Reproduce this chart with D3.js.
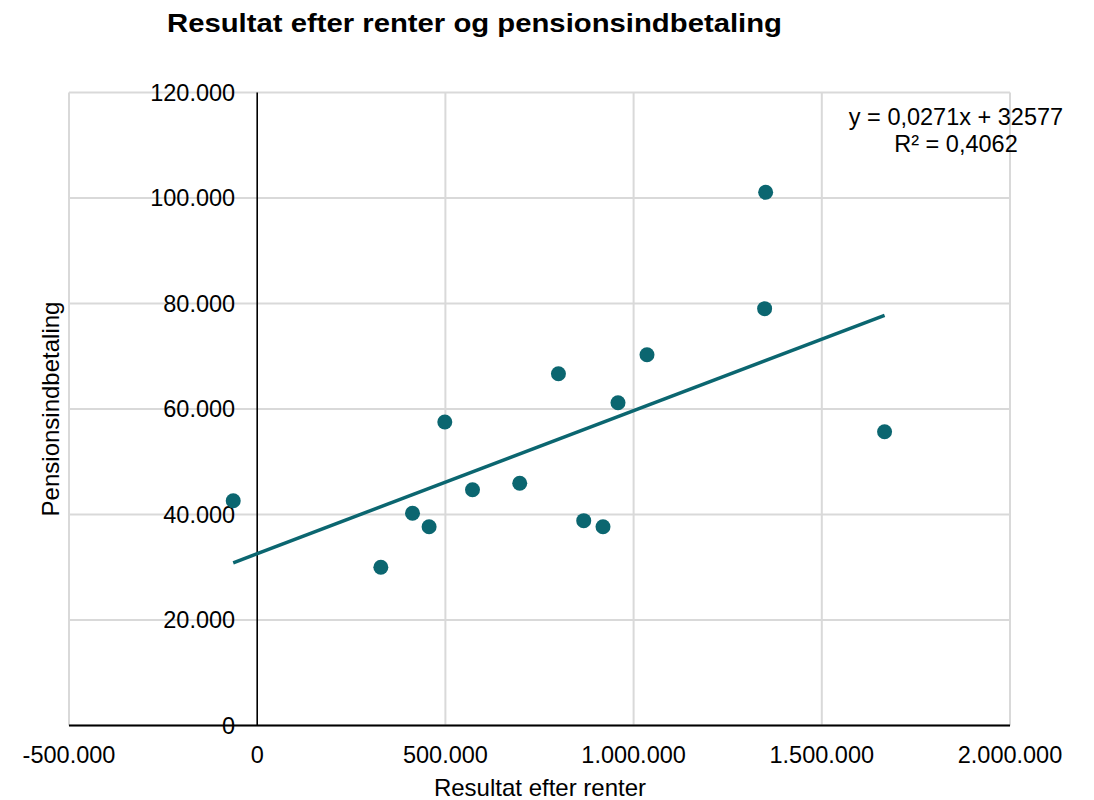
<!DOCTYPE html>
<html><head><meta charset="utf-8">
<script src="https://cdn.jsdelivr.net/npm/d3@7"></script>
<style>body{margin:0;background:#fff;} svg{display:block;font-family:"Liberation Sans",Arial,sans-serif;}</style>
</head><body>
<svg id="c" width="1094" height="800"></svg>
<script>
const xValues = [-63700, 328500, 412600, 456700, 498400, 572000, 697500, 800300, 867500, 918700, 958600, 1035600, 1348100, 1350800, 1666800];
const yValues = [42620, 29990, 40230, 37690, 57540, 44700, 45920, 66690, 38830, 37690, 61190, 70290, 79020, 101080, 55700];
const xTicks = [-500000, 0, 500000, 1000000, 1500000, 2000000];
const yTicks = [0, 20000, 40000, 60000, 80000, 100000, 120000];
const trendSlope = 0.0271, trendIntercept = 32577;
const equationLines = ["y = 0,0271x + 32577", "R² = 0,4062"];
const title = "Resultat efter renter og pensionsindbetaling";
const xTitle = "Resultat efter renter", yTitle = "Pensionsindbetaling";
const color = "#0b6670";

const svg = d3.select("#c");
const L = 69, R = 1010, T = 92.5, B = 725.5;
const x = d3.scaleLinear().domain([-500000, 2000000]).range([L, R]);
const y = d3.scaleLinear().domain([0, 120000]).range([B, T]);
const fmt = v => d3.format(",")(v).replace(/,/g, ".").replace("−", "-");

// grid
svg.append("g").selectAll("line").data(yTicks).join("line")
  .attr("x1", L).attr("x2", R).attr("y1", d => y(d)).attr("y2", d => y(d))
  .attr("stroke", "#d9d9d9").attr("stroke-width", 2);
svg.append("g").selectAll("line").data(xTicks.filter(d => d !== 0)).join("line")
  .attr("x1", d => x(d)).attr("x2", d => x(d)).attr("y1", T).attr("y2", B)
  .attr("stroke", "#d9d9d9").attr("stroke-width", 2);

// axes lines
svg.append("line").attr("x1", x(0)).attr("x2", x(0)).attr("y1", T).attr("y2", B)
  .attr("stroke", "#000").attr("stroke-width", 1.6);
svg.append("line").attr("x1", L).attr("x2", R).attr("y1", y(0)).attr("y2", y(0))
  .attr("stroke", "#000").attr("stroke-width", 2);

// tick labels
svg.append("g").selectAll("text").data(yTicks).join("text")
  .attr("x", x(0) - 22).attr("y", d => y(d)).attr("dy", "0.36em")
  .attr("text-anchor", "end").attr("font-size", 23.5).attr("fill", "#000")
  .text(d => fmt(d));
svg.append("g").selectAll("text").data(xTicks).join("text")
  .attr("x", d => x(d)).attr("y", 763)
  .attr("text-anchor", "middle").attr("font-size", 23.5).attr("fill", "#000")
  .text(d => fmt(d));

// titles
svg.append("text").attr("x", 167).attr("y", 32)
  .attr("font-size", 26.5).attr("font-weight", "bold")
  .attr("textLength", 615).attr("lengthAdjust", "spacingAndGlyphs").text(title);
svg.append("text").attr("x", 540).attr("y", 796).attr("text-anchor", "middle")
  .attr("font-size", 24).text(xTitle);
svg.append("text").attr("transform", `translate(59,409) rotate(-90)`).attr("text-anchor", "middle")
  .attr("font-size", 24).text(yTitle);

// trendline
const xmin = d3.min(xValues), xmax = d3.max(xValues);
svg.append("line")
  .attr("x1", x(xmin)).attr("y1", y(trendSlope * xmin + trendIntercept))
  .attr("x2", x(xmax)).attr("y2", y(trendSlope * xmax + trendIntercept))
  .attr("stroke", color).attr("stroke-width", 3.5);

// points
svg.append("g").selectAll("circle").data(xValues.map((v, i) => [v, yValues[i]])).join("circle")
  .attr("cx", d => x(d[0])).attr("cy", d => y(d[1])).attr("r", 7.5).attr("fill", color);

// equation
svg.append("g").selectAll("text").data(equationLines).join("text")
  .attr("x", 956).attr("y", (d, i) => 125 + i * 27).attr("text-anchor", "middle")
  .attr("font-size", 23.5).text(d => d);
</script>
</body></html>
